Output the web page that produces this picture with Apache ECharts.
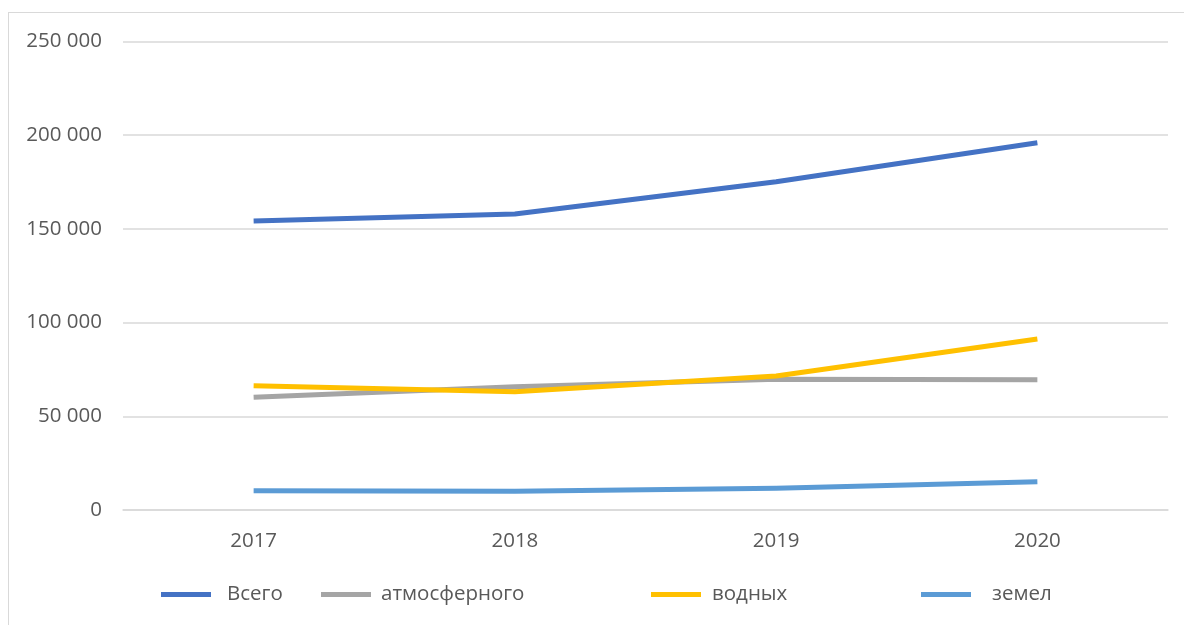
<!DOCTYPE html>
<html>
<head>
<meta charset="utf-8">
<script src="https://cdn.jsdelivr.net/npm/echarts@6/dist/echarts.min.js"></script>
<style>
  html, body { margin: 0; padding: 0; background: #ffffff; overflow: hidden; }
  #frame { position: absolute; left: 8px; top: 12px; width: 1300px; height: 800px;
           border: 1px solid #d9d9d9; box-sizing: border-box; }
  #chart { position: absolute; left: 0; top: 0; width: 1184px; height: 625px; }
</style>
</head>
<body>
<div id="frame"></div>
<div id="chart"></div>
<script>
// Years on the category axis
const years = ['2017', '2018', '2019', '2020'];

// Series values
const vsego = [154200, 158000, 175200, 196000];
const atmosfernogo = [60100, 65800, 69800, 69500];
const vodnyh = [66300, 63100, 71500, 91200];
const zemel = [10300, 10000, 11600, 15100];

// Legend labels
const names = ['Всего', 'атмосферного', 'водных', 'земел'];
const colors = ['#4472C4', '#A5A5A5', '#FFC000', '#5B9BD5'];
const seriesData = [vsego, atmosfernogo, vodnyh, zemel];

// Horizontal placement of each legend entry
const legendLeft = [161, 321, 651, 921];
const legendTextPad = [16, 10, 11, 21];

const font = '"Open Sans", "Noto Sans", sans-serif';
const textColor = '#595959';
const fontSize = 20.5;

const chart = echarts.init(document.getElementById('chart'), null, { renderer: 'canvas' });

chart.setOption({
  backgroundColor: 'transparent',
  animation: false,
  textStyle: { fontFamily: font },
  grid: { left: 123, right: 16, top: 41.5, bottom: 115, containLabel: false },
  xAxis: {
    type: 'category',
    data: years,
    boundaryGap: true,
    axisLine: { show: true, lineStyle: { color: '#d9d9d9', width: 1.5 } },
    axisTick: { show: false },
    axisLabel: { color: textColor, fontSize: fontSize, fontFamily: font, margin: 21 }
  },
  yAxis: {
    type: 'value',
    min: 0,
    max: 250000,
    interval: 50000,
    axisLine: { show: false },
    axisTick: { show: false },
    splitLine: { lineStyle: { color: '#d9d9d9', width: 1.5 } },
    axisLabel: {
      color: textColor, fontSize: fontSize, fontFamily: font, margin: 21,
      formatter: v => String(v).replace(/\B(?=(\d{3})+(?!\d))/g, ' ')
    }
  },
  legend: names.map((n, i) => ({
    data: [n],
    left: legendLeft[i],
    top: 584,
    padding: 0,
    icon: 'rect',
    itemWidth: 50,
    itemHeight: 5,
    itemGap: 0,
    textStyle: { color: textColor, fontSize: fontSize, fontFamily: font, padding: [0, 0, 0, legendTextPad[i] - 5] },
    selectedMode: false
  })),
  series: names.map((n, i) => ({
    name: n,
    type: 'line',
    data: seriesData[i],
    showSymbol: false,
    symbol: 'none',
    smooth: false,
    color: colors[i],
    lineStyle: { color: colors[i], width: 5, cap: 'butt', join: 'round' }
  }))
});
</script>
</body>
</html>
